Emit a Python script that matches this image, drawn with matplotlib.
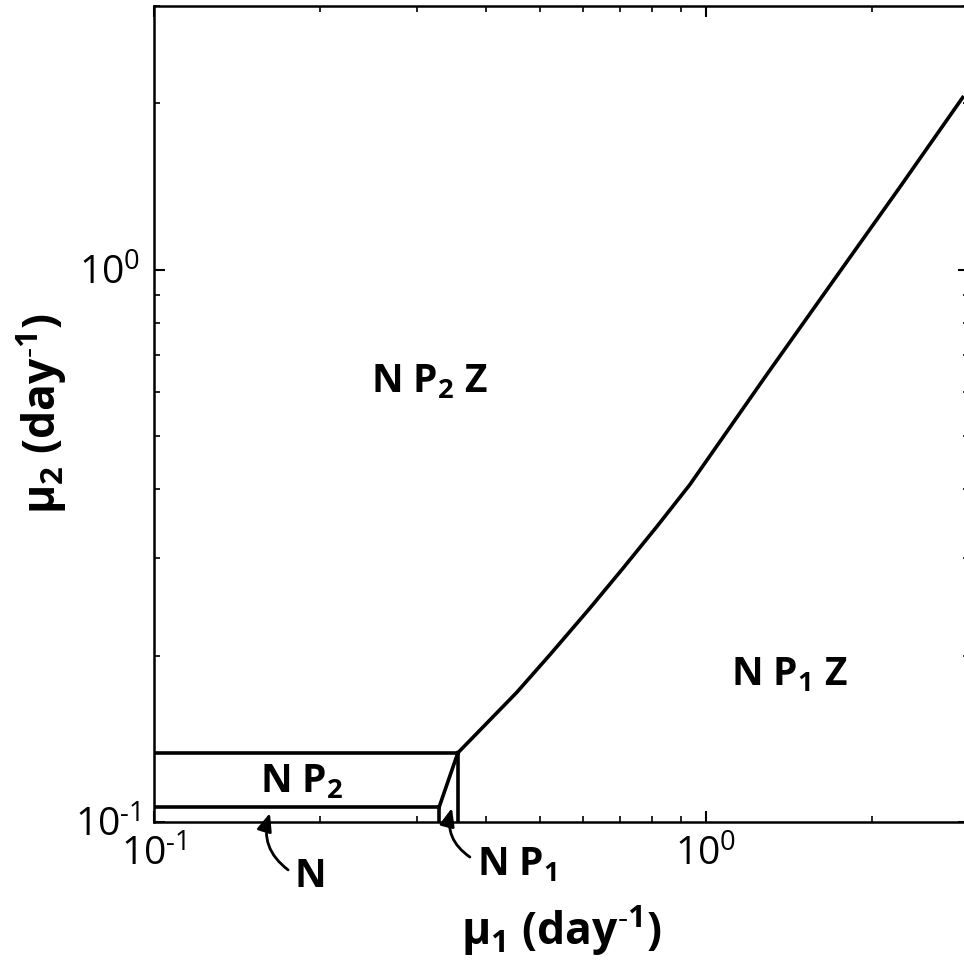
import matplotlib.pyplot as plt
from matplotlib.ticker import LogLocator, NullFormatter

plt.rcParams['font.family'] = ['Open Sans', 'DejaVu Sans']
plt.rcParams['mathtext.default'] = 'regular'
plt.rcParams['axes.unicode_minus'] = False

# boundary between N P2 Z and N P1 Z regions
curve_mu1 = [0.3554, 0.4541, 0.5217, 0.6166, 0.7083, 0.8141, 0.9354,
             1.290, 1.699, 2.246, 2.922]
curve_mu2 = [0.1334, 0.1715, 0.2007, 0.2438, 0.2881, 0.3419, 0.4078,
             0.6455, 0.9512, 1.408, 2.049]

# small regions near the lower left corner
upper_mu2 = 0.1334
lower_mu2 = 0.1065
corner_mu1 = 0.3554
lower_end_mu1 = 0.3288

xmin, xmax = 0.1, 3.0
ymin, ymax = 0.1, 3.0

HY = '\u2010'  # plain hyphen, so mathtext does not turn it into a minus

fig = plt.figure(figsize=(9.64, 9.69), dpi=100)
ax = fig.add_axes([154 / 964, 147 / 969, 815 / 964, 816 / 969])
ax.set_xscale('log')
ax.set_yscale('log')
ax.set_xlim(xmin, xmax)
ax.set_ylim(ymin, ymax)

lw = 2.6
# main curve
ax.plot(curve_mu1, curve_mu2, color='black', lw=lw)
# horizontal boundaries
ax.plot([xmin, corner_mu1], [upper_mu2, upper_mu2], color='black', lw=lw)
ax.plot([xmin, lower_end_mu1], [lower_mu2, lower_mu2], color='black', lw=lw)
# vertical boundaries
ax.plot([corner_mu1, corner_mu1], [ymin, upper_mu2], color='black', lw=lw)
ax.plot([lower_end_mu1, lower_end_mu1], [ymin, lower_mu2], color='black', lw=lw)
# slanted piece
ax.plot([lower_end_mu1, corner_mu1], [lower_mu2, upper_mu2], color='black', lw=lw)

# ticks
ax.xaxis.set_minor_locator(LogLocator(base=10, subs=range(2, 10), numticks=20))
ax.yaxis.set_minor_locator(LogLocator(base=10, subs=range(2, 10), numticks=20))
ax.xaxis.set_minor_formatter(NullFormatter())
ax.yaxis.set_minor_formatter(NullFormatter())
ax.set_xticks([0.1, 1.0])
ax.set_xticklabels(['$10^{%s1}$' % HY, '$10^{0}$'])
ax.set_yticks([0.1, 1.0])
ax.set_yticklabels(['$10^{%s1}$' % HY, '$10^{0}$'])
ax.tick_params(which='major', direction='in', length=8, width=1.5,
               top=True, right=True, labelsize=28, pad=10)
ax.tick_params(which='minor', direction='in', length=4, width=1.2,
               top=True, right=True)
for s in ax.spines.values():
    s.set_linewidth(1.8)

ax.set_xlabel('μ$_1$ (day$^{%s1}$)' % HY, fontsize=32, fontweight='bold', labelpad=20)
ax.set_ylabel('μ$_2$ (day$^{%s1}$)' % HY, fontsize=32, fontweight='bold', labelpad=4)

# region labels
kw = dict(fontsize=28, fontweight='bold', ha='center', va='baseline')
ax.text(0.3162, 0.599, 'N P$_2$ Z', **kw)
ax.text(1.42, 0.177, 'N P$_1$ Z', **kw)
ax.text(0.1853, 0.1129, 'N P$_2$', **kw)
ax.text(0.1917, 0.0762, 'N', clip_on=False, **kw)
ax.text(0.4546, 0.0802, 'N P$_1$', clip_on=False, **kw)

# arrows for the thin regions
arrow = dict(arrowstyle='-|>,head_length=0.6,head_width=0.25', color='black',
             lw=2.0, mutation_scale=18,
             connectionstyle='arc3,rad=-0.35', shrinkA=0, shrinkB=0)
ax.annotate('', xy=(0.1622, 0.1038), xytext=(0.1750, 0.0819),
            arrowprops=arrow, annotation_clip=False)
ax.annotate('', xy=(0.3467, 0.1060), xytext=(0.3737, 0.0864),
            arrowprops=arrow, annotation_clip=False)

fig.savefig('out.png', dpi=100)
